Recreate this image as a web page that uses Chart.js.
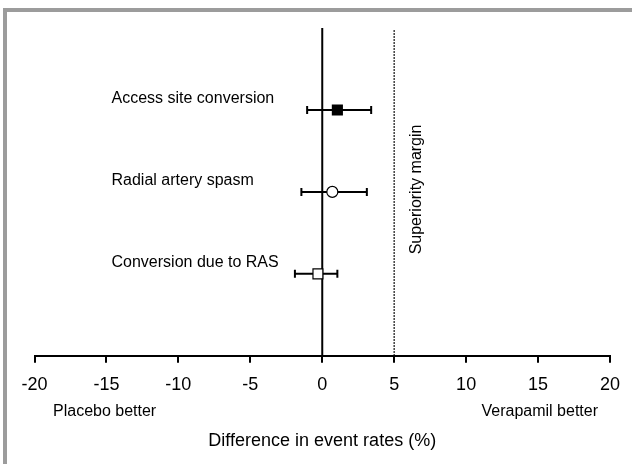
<!DOCTYPE html>
<html>
<head>
<meta charset="utf-8">
<script src="https://cdn.jsdelivr.net/npm/chart.js@4"></script>
<style>
  body { margin: 0; background: #fff; }
  #frame { position: absolute; left: 3px; top: 8px; width: 629px; height: 456px;
           border-top: 4px solid #9c9c9c; border-left: 4px solid #9c9c9c; box-sizing: border-box; }
  #chart { position: absolute; left: 0; top: 0; }
</style>
</head>
<body>
<div id="frame"></div>
<canvas id="chart" width="632" height="464"></canvas>
<script>
// outcomes, top to bottom
const categories = ['Access site conversion', 'Radial artery spasm', 'Conversion due to RAS'];
const rows = [3, 2, 1];
const estimates = [1.05, 0.7, -0.3];
const lower = [-1.05, -1.45, -1.9];
const upper = [3.4, 3.1, 1.05];
const xTicks = [-20, -15, -10, -5, 0, 5, 10, 15, 20];
const margin = 5;

const font = '"Liberation Sans", Arial, sans-serif';

// CI whiskers, drawn under the markers
const errorBars = {
  id: 'errorBars',
  beforeDatasetsDraw(chart) {
    const { ctx, scales: { x, y } } = chart;
    ctx.save();
    ctx.strokeStyle = '#000';
    ctx.lineWidth = 2;
    rows.forEach((r, i) => {
      const py = y.getPixelForValue(r);
      const x1 = x.getPixelForValue(lower[i]);
      const x2 = x.getPixelForValue(upper[i]);
      ctx.beginPath();
      ctx.moveTo(x1, py); ctx.lineTo(x2, py);
      ctx.moveTo(x1, py - 4); ctx.lineTo(x1, py + 4);
      ctx.moveTo(x2, py - 4); ctx.lineTo(x2, py + 4);
      ctx.stroke();
    });
    ctx.restore();
  }
};

const labels = {
  id: 'labels',
  afterDraw(chart) {
    const { ctx, chartArea, scales: { x, y } } = chart;
    ctx.save();
    ctx.fillStyle = '#000';
    ctx.font = '16px ' + font;
    ctx.textBaseline = 'middle';
    ctx.textAlign = 'left';
    rows.forEach((r, i) => {
      ctx.fillText(categories[i], chartArea.left + 77, y.getPixelForValue(r) - 11);
    });
    const by = chartArea.bottom + 56;
    ctx.fillText('Placebo better', chartArea.left + 18.5, by);
    ctx.textAlign = 'right';
    ctx.fillText('Verapamil better', chartArea.right - 12, by);
    // margin label
    ctx.translate(x.getPixelForValue(margin) + 22, y.getPixelForValue(2.03));
    ctx.rotate(-Math.PI / 2);
    ctx.textAlign = 'center';
    ctx.fillText('Superiority margin', 0, 0);
    ctx.restore();
  }
};

new Chart(document.getElementById('chart'), {
  type: 'scatter',
  data: {
    datasets: [
      {
        label: 'estimates',
        data: rows.map((r, i) => ({ x: estimates[i], y: r })),
        pointStyle: ['rect', 'circle', 'rect'],
        pointRadius: [7, 5.5, 7],
        pointHoverRadius: [7, 5.5, 7],
        backgroundColor: ['#000', '#fff', '#fff'],
        borderColor: '#000',
        borderWidth: 1.2
      },
      {
        label: 'zero',
        type: 'line',
        data: [{ x: 0, y: 0 }, { x: 0, y: 4 }],
        borderColor: '#000',
        borderWidth: 2,
        pointRadius: 0
      },
      {
        label: 'margin',
        type: 'line',
        data: [{ x: margin, y: 0 }, { x: margin, y: 3.98 }],
        borderColor: '#000',
        borderWidth: 1.5,
        borderDash: [1.5, 1.5],
        pointRadius: 0
      }
    ]
  },
  options: {
    responsive: false,
    animation: false,
    layout: { padding: { top: 28, left: 34.5, right: 22, bottom: 0 } },
    plugins: { legend: { display: false }, tooltip: { enabled: false } },
    scales: {
      x: {
        type: 'linear',
        min: -20,
        max: 20,
        afterBuildTicks: axis => { axis.ticks = xTicks.map(v => ({ value: v })); },
        ticks: { color: '#000', font: { size: 18, family: font }, padding: 11, maxRotation: 0 },
        grid: { drawOnChartArea: false, tickLength: 7, color: '#000', lineWidth: 2 },
        border: { color: '#000', width: 2 },
        title: {
          display: true,
          text: 'Difference in event rates (%)',
          color: '#000',
          font: { size: 18, family: font },
          padding: { top: 24, bottom: 12 }
        }
      },
      y: { display: false, min: 0, max: 4 }
    }
  },
  plugins: [errorBars, labels]
});
</script>
</body>
</html>
